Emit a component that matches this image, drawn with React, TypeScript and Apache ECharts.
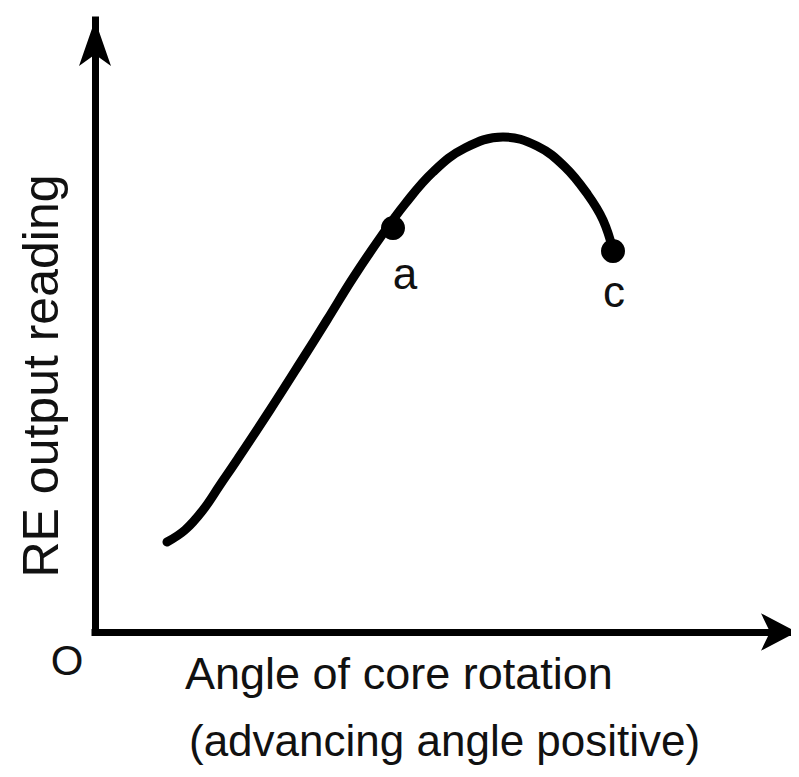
import React, { useEffect, useRef } from "react";
import * as echarts from "echarts";

// Curve: x = angle of core rotation (arbitrary units), y = RE output reading (arbitrary units)
const curvePoints: [number, number][] = [
  [72, 90], [90, 102], [108, 122], [125, 147], [142, 172], [175, 222], [205, 269],
  [232, 312], [258, 354], [285, 394], [310, 428], [338, 460], [370, 484], [408, 495],
  [442, 486], [470, 465], [493, 437], [508, 412], [518, 382],
];
const markedPoints: [number, number][] = [[298, 404], [518, 381]];
const markedLabels = ["a", "c"];
const xLabelLines = ["Angle of core rotation", "(advancing angle positive)"];
const yLabel = "RE output reading";
const originLabel = "O";
const X_MAX = 702;
const Y_MAX = 612;

const FONT = "'Liberation Sans', Arial, Helvetica, sans-serif";

export default function App() {
  const ref = useRef<HTMLDivElement>(null);
  useEffect(() => {
    if (!ref.current) return;
    const chart = echarts.init(ref.current, undefined, { renderer: "svg" });
    const axisCommon = {
      type: "value" as const,
      min: 0,
      axisTick: { show: false },
      axisLabel: { show: false },
      splitLine: { show: false },
    };
    chart.setOption({
      animation: false,
      backgroundColor: "#ffffff",
      grid: { left: 95, right: 2, top: 20, bottom: 145, containLabel: false },
      xAxis: {
        ...axisCommon,
        max: X_MAX,
        axisLine: {
          show: true,
          symbol: ["none", "arrow"],
          symbolSize: [28, 36],
          lineStyle: { color: "#000", width: 7, cap: "square" },
        },
      },
      yAxis: {
        ...axisCommon,
        max: Y_MAX,
        axisLine: {
          show: true,
          symbol: ["none", "arrow"],
          symbolSize: [24, 46],
          lineStyle: { color: "#000", width: 7, cap: "square" },
        },
      },
      series: [
        {
          type: "line",
          data: curvePoints,
          smooth: 0.4,
          showSymbol: false,
          lineStyle: { color: "#000", width: 9, cap: "round", join: "round" },
          z: 3,
        },
        {
          type: "scatter",
          data: markedPoints.map((p, i) => ({
            value: p,
            label: {
              show: true,
              formatter: markedLabels[i],
              position: "inside",
              offset: i === 0 ? [12, 45] : [1, 40],
              color: "#111",
              fontSize: 44,
              fontFamily: FONT,
            },
          })),
          symbol: "circle",
          symbolSize: 24,
          itemStyle: { color: "#000", opacity: 1 },
          z: 4,
        },
      ],
      graphic: [
        {
          type: "text",
          x: 185,
          y: 673,
          style: {
            text: xLabelLines[0],
            font: `45px ${FONT}`,
            fill: "#111",
            align: "left",
            verticalAlign: "middle",
          },
        },
        {
          type: "text",
          x: 189,
          y: 740,
          style: {
            text: xLabelLines[1],
            font: `44px ${FONT}`,
            fill: "#111",
            align: "left",
            verticalAlign: "middle",
          },
        },
        {
          type: "text",
          x: 41,
          y: 376,
          rotation: Math.PI / 2,
          style: {
            text: yLabel,
            font: `50px ${FONT}`,
            fill: "#111",
            align: "center",
            verticalAlign: "middle",
          },
        },
        {
          type: "text",
          x: 67,
          y: 660,
          style: {
            text: originLabel,
            font: `42px ${FONT}`,
            fill: "#111",
            align: "center",
            verticalAlign: "middle",
          },
        },
      ],
    });
    return () => chart.dispose();
  }, []);
  return <div ref={ref} style={{ width: 799, height: 777, margin: -8 }} />;
}
